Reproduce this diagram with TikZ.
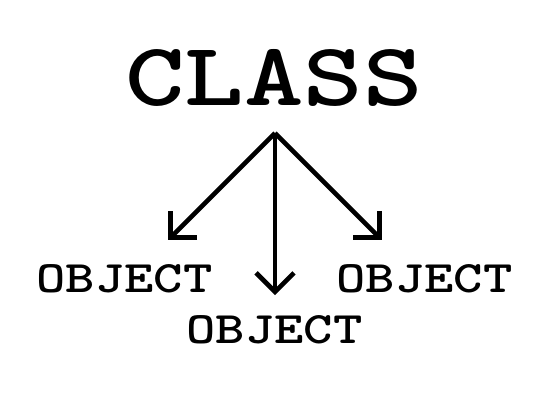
\documentclass[tikz,border=0pt]{standalone}
\usepackage{tikz}
\usetikzlibrary{arrows.meta}
\tikzset{>={Straight Barb[length=19pt,width=38pt]}}
\tikzset{classlbl/.style={anchor=base, inner sep=0pt, font=\fontsize{90}{90}\selectfont\ttfamily\bfseries, xscale=1.26},
  objlbl/.style={anchor=base, inner sep=0pt, font=\fontsize{45}{45}\selectfont\ttfamily\bfseries, xscale=1.24},
  instarrow/.style={->, line width=4.6pt}}

\begin{document}
\begin{tikzpicture}[x=1pt, y=-1pt]
\useasboundingbox (0,0) rectangle (550,400);
\node[classlbl] (class) at (274, 105) {CLASS};
\node[objlbl] (objleft) at (124.5, 292) {OBJECT};
\node[objlbl] (objright) at (424.5, 292) {OBJECT};
\node[objlbl] (objmid) at (274.5, 343) {OBJECT};
\coordinate (root) at (275, 133);
\coordinate (tipleft) at (168, 240);
\coordinate (tipmid) at (275, 295);
\coordinate (tipright) at (382, 240);
\draw[instarrow] (root) -- (tipleft);
\draw[instarrow] (root) -- (tipmid);
\draw[instarrow] (root) -- (tipright);
\end{tikzpicture}
\end{document}
